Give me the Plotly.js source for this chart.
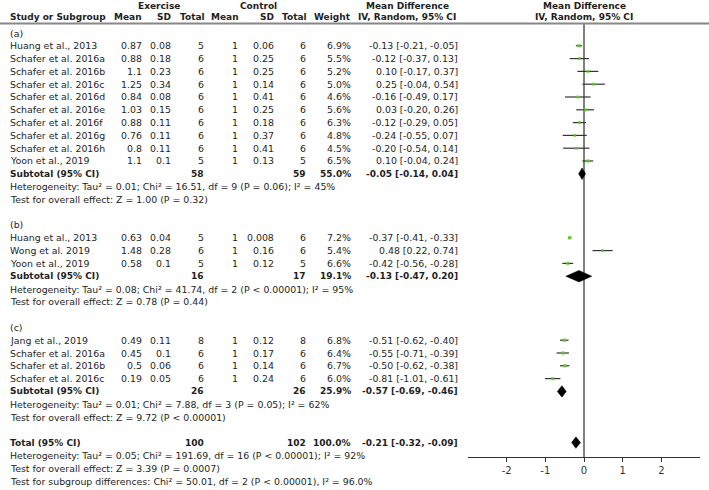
<!DOCTYPE html>
<html><head><meta charset="utf-8">
<script src="https://cdn.plot.ly/plotly-3.0.1.min.js"></script>
<style>html,body{margin:0;padding:0;background:#fff}#chart{width:709px;height:490px}</style>
</head><body><div id="chart"></div>
<script>
// ---------------- data ----------------
const groupLabels = ['(a)', '(b)', '(c)'];
const studyGroup = ['a','a','a','a','a','a','a','a','a','a','b','b','b','c','c','c','c'];
const studyNames = ['Huang et al., 2013','Schafer et al. 2016a','Schafer et al. 2016b','Schafer et al. 2016c',
  'Schafer et al. 2016d','Schafer et al. 2016e','Schafer et al. 2016f','Schafer et al. 2016g','Schafer et al. 2016h',
  'Yoon et al., 2019',
  'Huang et al., 2013','Wong et al. 2019','Yoon et al., 2019',
  'Jang et al., 2019','Schafer et al. 2016a','Schafer et al. 2016b','Schafer et al. 2016c'];
const exMean = [0.87,0.88,1.1,1.25,0.84,1.03,0.88,0.76,0.8,1.1, 0.63,1.48,0.58, 0.49,0.45,0.5,0.19];
const exSD   = [0.08,0.18,0.23,0.34,0.08,0.15,0.11,0.11,0.11,0.1, 0.04,0.28,0.1, 0.11,0.1,0.06,0.05];
const exN    = [5,6,6,6,6,6,6,6,6,5, 5,6,5, 8,6,6,6];
const ctMean = [1,1,1,1,1,1,1,1,1,1, 1,1,1, 1,1,1,1];
const ctSD   = [0.06,0.25,0.25,0.14,0.41,0.25,0.18,0.37,0.41,0.13, 0.008,0.16,0.12, 0.12,0.17,0.14,0.24];
const ctN    = [6,6,6,6,6,6,6,6,6,5, 6,6,5, 8,6,6,6];
const weight = [6.9,5.5,5.2,5.0,4.6,5.6,6.3,4.8,4.5,6.5, 7.2,5.4,6.6, 6.8,6.4,6.7,6.0];
const md     = [-0.13,-0.12,0.10,0.25,-0.16,0.03,-0.12,-0.24,-0.20,0.10, -0.37,0.48,-0.42, -0.51,-0.55,-0.50,-0.81];
const ciLo   = [-0.21,-0.37,-0.17,-0.04,-0.49,-0.20,-0.29,-0.55,-0.54,-0.04, -0.41,0.22,-0.56, -0.62,-0.71,-0.62,-1.01];
const ciHi   = [-0.05,0.13,0.37,0.54,0.17,0.26,0.05,0.07,0.14,0.24, -0.33,0.74,-0.28, -0.40,-0.39,-0.38,-0.61];

const subExN = [58,16,26];
const subCtN = [59,17,26];
const subWeight = [55.0,19.1,25.9];
const subMd = [-0.05,-0.13,-0.57];
const subLo = [-0.14,-0.47,-0.69];
const subHi = [0.04,0.20,-0.46];
const subHet = [
  'Heterogeneity: Tau² = 0.01; Chi² = 16.51, df = 9 (P = 0.06); I² = 45%',
  'Heterogeneity: Tau² = 0.08; Chi² = 41.74, df = 2 (P < 0.00001); I² = 95%',
  'Heterogeneity: Tau² = 0.01; Chi² = 7.88, df = 3 (P = 0.05); I² = 62%'];
const subTest = ['Test for overall effect: Z = 1.00 (P = 0.32)',
  'Test for overall effect: Z = 0.78 (P = 0.44)',
  'Test for overall effect: Z = 9.72 (P < 0.00001)'];

const totExN = 100, totCtN = 102, totWeight = 100.0;
const totMd = -0.21, totLo = -0.32, totHi = -0.09;
const totalNotes = ['Heterogeneity: Tau² = 0.05; Chi² = 191.69, df = 16 (P < 0.00001); I² = 92%',
  'Test for overall effect: Z = 3.39 (P = 0.0007)',
  'Test for subgroup differences: Chi² = 50.01, df = 2 (P < 0.00001), I² = 96.0%'];

const xTicks = [-2,-1,0,1,2];
const xTickText = ['-2','-1','0','1','2'];

// ---------------- layout helpers ----------------
const W = 709, H = 490;
const ROW0 = 33, ROWH = 12.8;          // pixel y of row 0 and row height
const rowPx = r => ROW0 + ROWH * r;
const FONT = 'DejaVu Sans';
const FS = 9.4, FSB = 9;
const COL = {name: 8, exMean: 144, exSD: 173, exN: 206, ctMean: 240, ctSD: 276, ctN: 308, weight: 353, mdText: 460};

const annotations = [];
function txt(px, py, text, anchor, bold) {
  annotations.push({
    xref: 'paper', yref: 'paper', x: px / W, y: 1 - py / H,
    xanchor: anchor, yanchor: 'middle', showarrow: false,
    text: bold ? '<b>' + text + '</b>' : text,
    font: {family: FONT, size: bold ? FSB : FS, color: '#1e1e1e'}
  });
}
const f2 = v => v.toFixed(2);
const ciText = (m, l, h) => f2(m) + ' [' + f2(l) + ', ' + f2(h) + ']';

// headers
txt(159, 6, 'Exercise', 'center', true);
txt(258, 6, 'Control', 'center', true);
txt(407, 6, 'Mean Difference', 'center', true);
txt(584, 6, 'Mean Difference', 'center', true);
txt(8, 17.5, 'Study or Subgroup', 'left', true);
txt(COL.exMean, 17.5, 'Mean', 'right', true);
txt(COL.exSD, 17.5, 'SD', 'right', true);
txt(COL.exN + 1, 17.5, 'Total', 'right', true);
txt(COL.ctMean + 1, 17.5, 'Mean', 'right', true);
txt(COL.ctSD, 17.5, 'SD', 'right', true);
txt(COL.ctN + 1, 17.5, 'Total', 'right', true);
txt(COL.weight, 17.5, 'Weight', 'right', true);
txt(407, 17.5, 'IV, Random, 95% CI', 'center', true);
txt(584, 17.5, 'IV, Random, 95% CI', 'center', true);

// rows
let r = 0;
const studyRow = [];
const subRow = [];
['a','b','c'].forEach((g, gi) => {
  txt(COL.name, rowPx(r), groupLabels[gi], 'left', false); r++;
  studyGroup.forEach((sg, i) => {
    if (sg !== g) return;
    const py = rowPx(r);
    txt(COL.name, py, studyNames[i], 'left');
    txt(COL.exMean, py, String(exMean[i]), 'right');
    txt(COL.exSD, py, String(exSD[i]), 'right');
    txt(COL.exN, py, String(exN[i]), 'right');
    txt(COL.ctMean, py, String(ctMean[i]), 'right');
    txt(COL.ctSD, py, String(ctSD[i]), 'right');
    txt(COL.ctN, py, String(ctN[i]), 'right');
    txt(COL.weight, py, weight[i].toFixed(1) + '%', 'right');
    txt(COL.mdText, py, ciText(md[i], ciLo[i], ciHi[i]), 'right');
    studyRow[i] = r; r++;
  });
  let py = rowPx(r);
  txt(COL.name, py, 'Subtotal (95% CI)', 'left', true);
  txt(COL.exN, py, String(subExN[gi]), 'right', true);
  txt(COL.ctN, py, String(subCtN[gi]), 'right', true);
  txt(COL.weight, py, subWeight[gi].toFixed(1) + '%', 'right', true);
  txt(COL.mdText, py, ciText(subMd[gi], subLo[gi], subHi[gi]), 'right', true);
  subRow[gi] = r; r++;
  txt(COL.name, rowPx(r), subHet[gi], 'left'); r++;
  txt(COL.name, rowPx(r), subTest[gi], 'left'); r++;
  r++; // blank
});
const totRow = r;
txt(COL.name, rowPx(r), 'Total (95% CI)', 'left', true);
txt(COL.exN, rowPx(r), String(totExN), 'right', true);
txt(COL.ctN, rowPx(r), String(totCtN), 'right', true);
txt(COL.weight, rowPx(r), totWeight.toFixed(1) + '%', 'right', true);
txt(COL.mdText, rowPx(r), ciText(totMd, totLo, totHi), 'right', true);
r++;
totalNotes.forEach(t => { txt(COL.name, rowPx(r), t, 'left'); r++; });

// ---------------- traces ----------------
const traces = [];
traces.push({
  type: 'scatter', mode: 'markers', x: md, y: studyRow,
  marker: {symbol: 'square', color: '#5fd11f', size: weight.map(w => 2 + w * 0.22), line: {width: 0}},
  error_x: {type: 'data', symmetric: false,
    array: ciHi.map((h, i) => h - md[i]), arrayminus: ciLo.map((l, i) => md[i] - l),
    width: 0, thickness: 1.2, color: '#333'},
  hoverinfo: 'skip', showlegend: false
});
const DH = 0.45;
function diamond(m, l, h, row) {
  traces.push({type: 'scatter', mode: 'lines', fill: 'toself', fillcolor: '#000',
    x: [l, m, h, m, l], y: [row, row - DH, row, row + DH, row],
    line: {width: 0.5, color: '#000'}, hoverinfo: 'skip', showlegend: false});
}
subMd.forEach((m, gi) => diamond(m, subLo[gi], subHi[gi], subRow[gi]));
diamond(totMd, totLo, totHi, totRow);

// axes: x domain pixel 468..700 for range [-3,3]; y domain pixel 24..457
const yTopPx = 24, yBotPx = 457;
const layout = {
  width: W, height: H, margin: {l: 0, r: 0, t: 0, b: 0},
  paper_bgcolor: '#fff', plot_bgcolor: 'rgba(0,0,0,0)', showlegend: false,
  xaxis: {domain: [468 / W, 700 / W], range: [-3, 3], showgrid: false,
    zeroline: true, zerolinecolor: '#808080', zerolinewidth: 1.5,
    showline: true, linecolor: '#333', linewidth: 1, mirror: false,
    ticks: 'outside', ticklen: 4, tickcolor: '#333', tickwidth: 1,
    tickvals: xTicks, ticktext: xTickText,
    tickfont: {family: FONT, size: 10, color: '#333'}, fixedrange: true},
  yaxis: {domain: [1 - yBotPx / H, 1 - yTopPx / H],
    range: [(yBotPx - ROW0) / ROWH, (yTopPx - ROW0) / ROWH],
    visible: false, showgrid: false, zeroline: false, fixedrange: true},
  shapes: [{type: 'line', xref: 'paper', yref: 'paper', x0: 0, x1: 1,
    y0: 1 - 23.5 / H, y1: 1 - 23.5 / H, line: {color: '#888', width: 2}}],
  annotations: annotations
};
Plotly.newPlot('chart', traces, layout, {displayModeBar: false, staticPlot: true});
</script></body></html>
